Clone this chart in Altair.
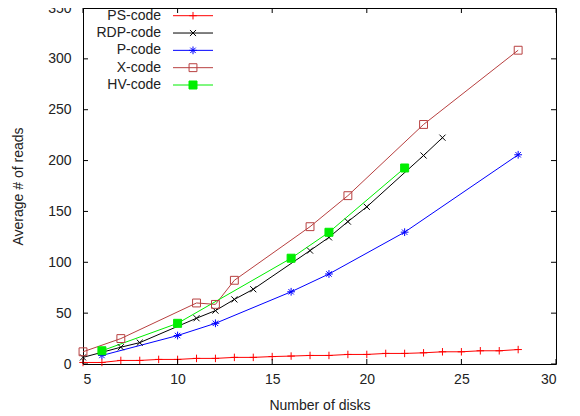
import altair as alt
import pandas as pd

series = ["PS-code", "RDP-code", "P-code", "X-code", "HV-code"]
colors = ["#ff0000", "#000000", "#0000ff", "#b84040", "#00ee00"]

ps_x = list(range(5, 29))
ps_y = [1.5, 1.5, 3.5, 3.5, 4.5, 4.5, 5.5, 5.5, 6.5, 6.5, 7.3, 7.8, 8.4, 8.4,
        9.4, 9.4, 10.4, 10.4, 11.0, 12.0, 12.0, 13.0, 13.0, 14.2]
rdp_x = [5, 7, 8, 11, 12, 13, 14, 17, 18, 19, 20, 23, 24]
rdp_y = [6.5, 16.5, 21.0, 45.0, 52.5, 63.5, 73.5, 111.5, 124.5, 140.0, 154.5, 205.0, 222.5]
p_x = [6, 10, 12, 16, 18, 22, 28]
p_y = [8.4, 28.0, 40.0, 71.0, 88.5, 129.6, 205.7]
xc_x = [5, 7, 11, 12, 13, 17, 19, 23, 28]
xc_y = [12.0, 25.0, 60.0, 58.6, 82.3, 135.0, 165.5, 235.5, 308.5]
hv_x = [6, 10, 16, 18, 22]
hv_y = [13.0, 40.0, 104.0, 129.5, 192.7]

x_ticks = [5, 10, 15, 20, 25, 30]
y_ticks = [0, 50, 100, 150, 200, 250, 300, 350]

W, H = 473, 356
FONT = "Liberation Sans"
TXT = "#222222"

rows = []
for name, xs_, ys_ in zip(series, [ps_x, rdp_x, p_x, xc_x, hv_x], [ps_y, rdp_y, p_y, xc_y, hv_y]):
    for a, b in zip(xs_, ys_):
        rows.append({"series": name, "disks": a, "reads": b})
df = pd.DataFrame(rows)

PLUS = "M-1,0L1,0M0,-1L0,1"
CROSS = "M-0.8,-0.8L0.8,0.8M-0.8,0.8L0.8,-0.8"
STAR = "M-1,0L1,0M0,-1L0,1M-0.7,-0.7L0.7,0.7M-0.7,0.7L0.7,-0.7"

color_scale = alt.Scale(domain=series, range=colors)
shape_scale = alt.Scale(domain=series, range=[PLUS, CROSS, STAR, "square", "square"])
fill_scale = alt.Scale(domain=series, range=["transparent"] * 4 + [colors[4]])
size_scale = alt.Scale(domain=series, range=[56, 64, 56, 42, 49])

xs = alt.Scale(domain=[5, 30], nice=False, zero=False)
ys = alt.Scale(domain=[0, 350], nice=False)

axis_style = dict(grid=False, ticks=False, domain=False,
                  labelFont=FONT, titleFont=FONT, labelFontSize=14, titleFontSize=14,
                  labelColor=TXT, titleColor=TXT, titleFontWeight="normal")

X = alt.X("disks:Q", scale=xs, title="Number of disks",
          axis=alt.Axis(values=x_ticks, labelPadding=8, titlePadding=12, **axis_style))
Y = alt.Y("reads:Q", scale=ys, title="Average # of reads",
          axis=alt.Axis(values=y_ticks, labelPadding=12, titlePadding=22, **axis_style))

base = alt.Chart(df)
lines = base.mark_line(strokeWidth=1).encode(
    x=X, y=Y,
    color=alt.Color("series:N", scale=color_scale, legend=None),
    detail="series:N",
)
points = base.mark_point(strokeWidth=1, opacity=1, fillOpacity=1).encode(
    x=alt.X("disks:Q", scale=xs),
    y=alt.Y("reads:Q", scale=ys),
    color=alt.Color("series:N", scale=color_scale, legend=None),
    fill=alt.Fill("series:N", scale=fill_scale, legend=None),
    shape=alt.Shape("series:N", scale=shape_scale, legend=None),
    size=alt.Size("series:N", scale=size_scale, legend=None),
)

xt = alt.Chart(pd.DataFrame({"disks": x_ticks}))
yt = alt.Chart(pd.DataFrame({"reads": y_ticks}))
tick_b = xt.mark_rule(color="black", strokeWidth=1).encode(
    x=alt.X("disks:Q", scale=xs), y=alt.value(H), y2=alt.value(H - 5))
tick_t = xt.mark_rule(color="black", strokeWidth=1).encode(
    x=alt.X("disks:Q", scale=xs), y=alt.value(0), y2=alt.value(5))
tick_l = yt.mark_rule(color="black", strokeWidth=1).encode(
    y=alt.Y("reads:Q", scale=ys), x=alt.value(0), x2=alt.value(5))
tick_r = yt.mark_rule(color="black", strokeWidth=1).encode(
    y=alt.Y("reads:Q", scale=ys), x=alt.value(W), x2=alt.value(W - 5))

main = alt.layer(lines, points, tick_b, tick_t, tick_l, tick_r)

leg_df = pd.DataFrame({"series": series})
LY = alt.Y("series:N", scale=alt.Scale(type="point", domain=series, range=[7.7, 77], padding=0), axis=None)
leg_text = alt.Chart(leg_df).mark_text(align="right", baseline="middle", fontSize=14, font=FONT, color=TXT).encode(
    x=alt.value(78), y=LY, text="series:N")
leg_line = alt.Chart(leg_df).mark_rule(strokeWidth=1).encode(
    x=alt.value(90), x2=alt.value(130), y=LY,
    color=alt.Color("series:N", scale=color_scale, legend=None))
leg_pt = alt.Chart(leg_df).mark_point(strokeWidth=1, opacity=1, fillOpacity=1).encode(
    x=alt.value(110), y=LY,
    color=alt.Color("series:N", scale=color_scale, legend=None),
    fill=alt.Fill("series:N", scale=fill_scale, legend=None),
    shape=alt.Shape("series:N", scale=shape_scale, legend=None),
    size=alt.Size("series:N", scale=size_scale, legend=None),
)
legend = alt.layer(leg_line, leg_pt, leg_text)

chart = alt.layer(main, legend).resolve_scale(y="independent").properties(
    width=W, height=H,
    background="white",
    autosize=alt.AutoSizeParams(type="none"),
    padding={"left": 75, "top": 0, "right": 16, "bottom": 50},
).configure_view(stroke="black", strokeWidth=1)

chart.save("out.html", embed_options={"renderer": "svg", "actions": False})
